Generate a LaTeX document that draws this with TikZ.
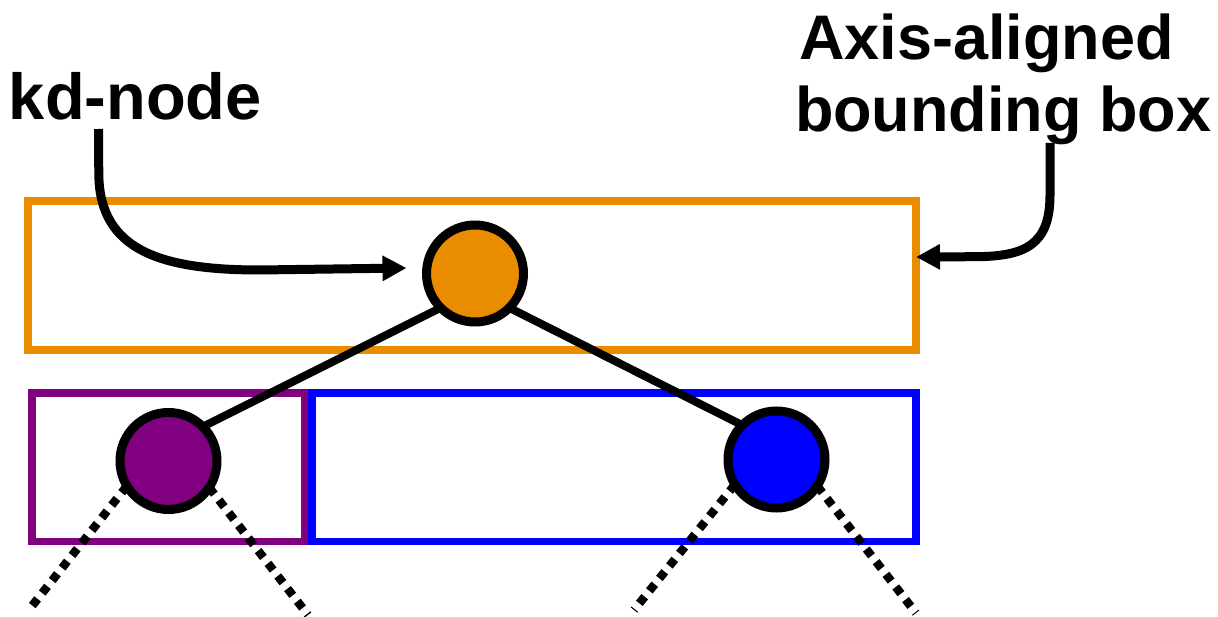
\documentclass[tikz,border=0pt]{standalone}
\usepackage{fontspec}
\setmainfont{Liberation Sans}
\usetikzlibrary{arrows.meta,calc}

\definecolor{kdorange}{HTML}{EA8C00}
\definecolor{kdpurple}{HTML}{800080}
\definecolor{kdblue}{HTML}{0000FF}

\tikzset{
  bbox/.style={draw, line width=8pt, inner sep=0pt, outer sep=0pt, fill=none},
  treenode/.style={circle, draw=black, line width=9pt, minimum size=97pt, inner sep=0pt, outer sep=0pt},
  treeedge/.style={draw=black, line width=8pt},
  subtree/.style={draw=black, line width=8.5pt, dash pattern=on 8.5pt off 7.5pt},
  pointer/.style={draw=black, line width=9pt, -{Triangle[length=24pt,width=24pt]}},
  caption/.style={font=\bfseries\fontsize{63}{73}\selectfont, inner sep=0pt, outer sep=0pt, anchor=base west}
}

\begin{document}
\begin{tikzpicture}[x=1pt, y=-1pt]
  \useasboundingbox (0,0) rectangle (1218,617);

  % bounding boxes of the root and its two children
  \node[bbox, draw=kdorange, minimum width=888pt, minimum height=149pt] (orect) at (472,275.5) {};
  \node[bbox, draw=kdpurple, line width=7.5pt, minimum width=273pt, minimum height=148.7pt] (prect) at (168.5,467.35) {};
  \node[bbox, draw=kdblue, line width=7.5pt, minimum width=604pt, minimum height=148.7pt] (brect) at (614,467.35) {};

  % tree nodes
  \node[treenode, fill=kdorange] (on) at (475,273.5) {};
  \node[treenode, fill=kdpurple] (pn) at (168.5,461) {};
  \node[treenode, fill=kdblue] (bn) at (776.5,459.5) {};

  % loose ends of the subtrees below the children
  \coordinate (pl) at (28,611);
  \coordinate (pr) at (308,615);
  \coordinate (bl) at (634,610);
  \coordinate (br) at (916,613);

  \draw[treeedge] (on.south west) -- (pn.north east);
  \draw[treeedge] (on.south east) -- (bn.north west);

  \draw[subtree] (pn.211) -- (pl);
  \draw[subtree] (pn.327) -- (pr);
  \draw[subtree] (bn.211) -- (bl);
  \draw[subtree] (bn.327) -- (br);

  % labels
  \node[caption, font=\bfseries\fontsize{65}{75}\selectfont] (kdlabel) at (9,120) {kd-node};
  \node[caption] (aabb1) at (799,60) {Axis-aligned};
  \node[caption] (aabb2) at (795,132) {bounding box};

  % pointers from the labels
  \coordinate (kdstart) at (98.5,129);
  \coordinate (kdtip) at ($(on.west)+(-20,-5.5)$);
  \draw[pointer] (kdstart) -- (98.8,175)
    .. controls (100,250) and (160,270) .. (260,270) -- (kdtip);

  \coordinate (bbstart) at (1050,143);
  \coordinate (bbtip) at ($(orect.east)+(0,-18.5)$);
  \draw[pointer] (bbstart) -- (1050,195)
    .. controls (1050,245) and (1025,256.5) .. (975,256.7) -- (bbtip);
\end{tikzpicture}
\end{document}
